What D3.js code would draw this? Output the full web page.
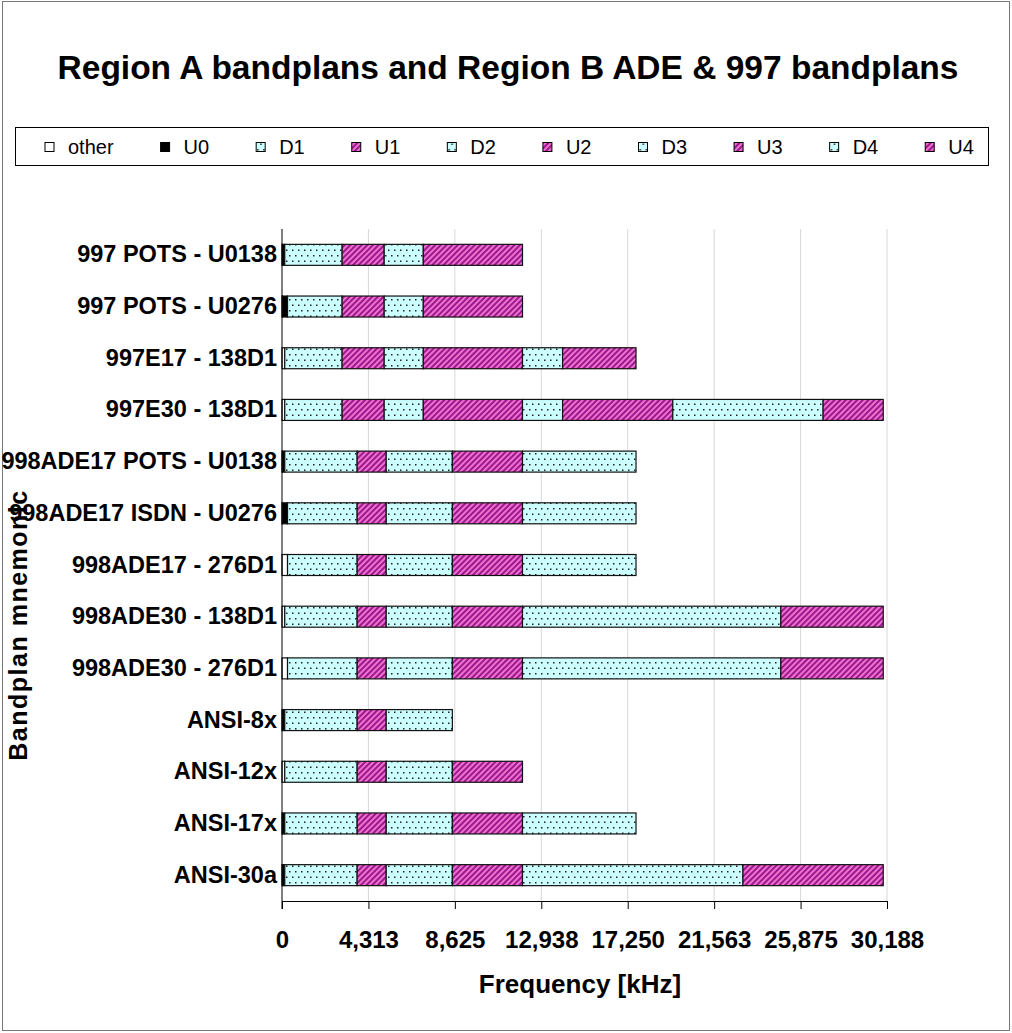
<!DOCTYPE html>
<html>
<head>
<meta charset="utf-8">
<script src="https://cdn.jsdelivr.net/npm/d3@7"></script>
<style>
body { margin: 0; background: #fff; }
text { font-family: "Liberation Sans", Arial, sans-serif; }
</style>
</head>
<body>
<svg id="mainSvg" width="1012" height="1033"></svg>
<script>
// bandplans, top to bottom
var categories = ["997 POTS - U0138", "997 POTS - U0276", "997E17 - 138D1", "997E30 - 138D1",
	"998ADE17 POTS - U0138", "998ADE17 ISDN - U0276", "998ADE17 - 276D1", "998ADE30 - 138D1",
	"998ADE30 - 276D1", "ANSI-8x", "ANSI-12x", "ANSI-17x", "ANSI-30a"];
var seriesNames = ["other", "U0", "D1", "U1", "D2", "U2", "D3", "U3", "D4", "U4"];
// band widths in kHz, one value per bandplan
var other = [25, 25, 138, 138, 25, 25, 276, 138, 276, 25, 138, 25, 25];
var U0 = [113, 251, 0, 0, 113, 251, 0, 0, 0, 113, 0, 113, 113];
var D1 = [2862, 2724, 2862, 2862, 3612, 3474, 3474, 3612, 3474, 3612, 3612, 3612, 3612];
var U1 = [2100, 2100, 2100, 2100, 1450, 1450, 1450, 1450, 1450, 1450, 1450, 1450, 1450];
var D2 = [1950, 1950, 1950, 1950, 3300, 3300, 3300, 3300, 3300, 3300, 3300, 3300, 3300];
var U2 = [4950, 4950, 4950, 4950, 3500, 3500, 3500, 3500, 3500, 0, 3500, 3500, 3500];
var D3 = [0, 0, 2000, 2000, 5664, 5664, 5664, 12890, 12890, 0, 0, 5664, 11000];
var U3 = [0, 0, 3664, 5500, 0, 0, 0, 5110, 5110, 0, 0, 0, 7000];
var D4 = [0, 0, 0, 7500, 0, 0, 0, 0, 0, 0, 0, 0, 0];
var U4 = [0, 0, 0, 3000, 0, 0, 0, 0, 0, 0, 0, 0, 0];
var tickValues = [0, 4312.5, 8625, 12937.5, 17250, 21562.5, 25875, 30187.5];

var seriesData = [other, U0, D1, U1, D2, U2, D3, U3, D4, U4];
var rows = categories.map(function(c, i) {
	var r = {name: c};
	seriesNames.forEach(function(s, j) { r[s] = seriesData[j][i]; });
	return r;
});
var stacked = d3.stack().keys(seriesNames)(rows);

var svg = d3.select("#mainSvg");
var defs = svg.append("defs");

// dotted cyan fill for downstream bands
var pd = defs.append("pattern").attr("id", "dots").attr("patternUnits", "userSpaceOnUse")
	.attr("width", 6).attr("height", 11);
pd.append("rect").attr("width", 6).attr("height", 11).attr("fill", "#ccffff");
pd.append("rect").attr("x", 1).attr("y", 2).attr("width", 1.5).attr("height", 1.5).attr("fill", "#222");
pd.append("rect").attr("x", 4).attr("y", 7.5).attr("width", 1.5).attr("height", 1.5).attr("fill", "#222");

// magenta diagonal stripes for upstream bands
var ps = defs.append("pattern").attr("id", "stripes").attr("patternUnits", "userSpaceOnUse")
	.attr("width", 4).attr("height", 4).attr("patternTransform", "rotate(45)");
ps.append("rect").attr("width", 4).attr("height", 4).attr("fill", "#f070d0");
ps.append("rect").attr("width", 2).attr("height", 4).attr("fill", "#9a1a8c");

function fillFor(key) {
	if(key == "other") return "#fff";
	if(key == "U0") return "#000";
	return key[0] == "D" ? "url(#dots)" : "url(#stripes)";
}

// outer border
svg.append("rect").attr("x", 2.5).attr("y", 1.5).attr("width", 1007).attr("height", 1029)
	.attr("fill", "none").attr("stroke", "#777").attr("stroke-width", 1);

svg.append("text").attr("x", 508).attr("y", 79).attr("text-anchor", "middle")
	.attr("font-size", "33.5px").attr("font-weight", "bold").text("Region A bandplans and Region B ADE & 997 bandplans");

// legend, entries spaced by their label widths
svg.append("rect").attr("x", 15.5).attr("y", 127.5).attr("width", 973).attr("height", 38)
	.attr("fill", "#fff").attr("stroke", "#000").attr("stroke-width", 1);
var lg = svg.append("g").selectAll("g").data(seriesNames).enter().append("g");
lg.append("rect").attr("x", 0).attr("y", -4.5).attr("width", 9).attr("height", 9)
	.attr("fill", function(d) { return fillFor(d); }).attr("stroke", "#000").attr("stroke-width", 1);
lg.append("text").attr("x", 23).attr("y", 7).attr("font-size", "20px").text(function(d) { return d; });
var lx = 45;
lg.each(function() {
	d3.select(this).attr("transform", "translate(" + lx + ",147)");
	lx += 23 + d3.select(this).select("text").node().getComputedTextLength() + 47;
});

var x = d3.scaleLinear().domain([0, 30187.5]).range([282, 887]);
var y = d3.scaleBand().domain(categories).range([229, 901]).paddingInner(0.594).paddingOuter(0.297);

// gridlines
svg.append("g").selectAll("line").data(tickValues.slice(1)).enter().append("line")
	.attr("x1", function(d) { return x(d); }).attr("x2", function(d) { return x(d); })
	.attr("y1", 229).attr("y2", 901).attr("stroke", "#d8d8d8").attr("stroke-width", 1);

// bars
svg.append("g").selectAll("g").data(stacked).enter().append("g")
	.attr("fill", function(d) { return fillFor(d.key); })
	.selectAll("rect").data(function(d) { return d.filter(function(p) { return p[1] > p[0]; }); }).enter().append("rect")
	.attr("x", function(d) { return x(d[0]); })
	.attr("width", function(d) { return x(d[1]) - x(d[0]); })
	.attr("y", function(d) { return y(d.data.name); })
	.attr("height", y.bandwidth())
	.attr("stroke", "#111").attr("stroke-width", 1.2);

// x axis
var xAxis = d3.axisBottom(x).tickValues(tickValues).tickSize(8).tickSizeOuter(0)
	.tickFormat(function(d) { return d3.format(",")(Math.round(d)); });
var gx = svg.append("g").attr("transform", "translate(0,901)").call(xAxis);
gx.select(".domain").attr("stroke", "#000");
gx.selectAll(".tick line").attr("stroke", "#000");
gx.selectAll(".tick text").attr("font-size", "24px").attr("font-weight", "bold")
	.attr("font-family", "Liberation Sans, Arial, sans-serif").attr("fill", "#000")
	.attr("y", 47).attr("dy", 0);

// y axis
var yAxis = d3.axisLeft(y).tickSize(0).tickPadding(5);
var gy = svg.append("g").attr("transform", "translate(282,0)").call(yAxis);
gy.select(".domain").remove();
gy.selectAll(".tick text").attr("font-size", "23.5px").attr("font-weight", "bold")
	.attr("font-family", "Liberation Sans, Arial, sans-serif").attr("fill", "#000");
svg.append("line").attr("x1", 282).attr("x2", 282).attr("y1", 229).attr("y2", 909)
	.attr("stroke", "#000").attr("stroke-width", 1);

svg.append("text").attr("x", 580).attr("y", 993).attr("text-anchor", "middle")
	.attr("font-size", "26px").attr("font-weight", "bold").text("Frequency [kHz]");
svg.append("text").attr("transform", "translate(27,625) rotate(-90)").attr("text-anchor", "middle")
	.attr("font-size", "25px").attr("font-weight", "bold").attr("letter-spacing", "1.5px").text("Bandplan mnemonic");
</script>
</body>
</html>
